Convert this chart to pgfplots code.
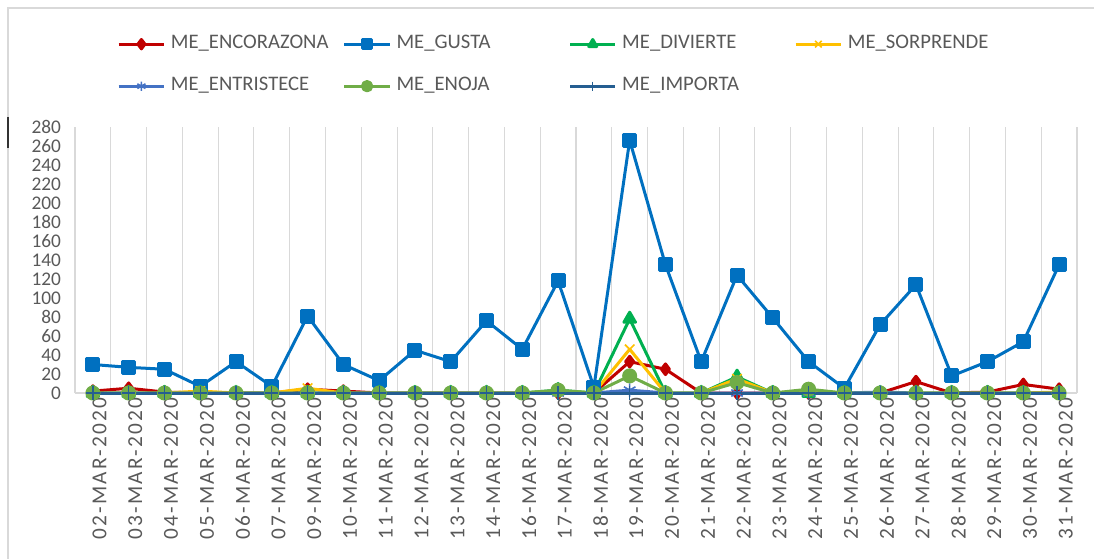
\documentclass[border=0pt]{standalone}
\usepackage{fontspec}
\setmainfont{Carlito}
\newfontfamily\tickfont[LetterSpace=10]{Carlito}
\usepackage{pgfplots}
\pgfplotsset{compat=1.18}
\definecolor{cRed}{HTML}{C00000}
\definecolor{cBlue}{HTML}{0070C0}
\definecolor{cGreen}{HTML}{00B050}
\definecolor{cYellow}{HTML}{FFC000}
\definecolor{cLBlue}{HTML}{4472C4}
\definecolor{cLGreen}{HTML}{70AD47}
\definecolor{cDBlue}{HTML}{255E91}
\definecolor{textgray}{HTML}{595959}
\definecolor{gridgray}{HTML}{D9D9D9}
\begin{document}
\begin{tikzpicture}
\begin{axis}[
  scale only axis,
  width=751.5pt, height=199.5pt,
  xmin=-0.5, xmax=27.5, ymin=0, ymax=280,
  axis lines*=left,
  axis line style={draw=gridgray, line width=0.8pt},
  xtick={0,...,27},
  xticklabels={02-MAR-2020,03-MAR-2020,04-MAR-2020,05-MAR-2020,06-MAR-2020,07-MAR-2020,09-MAR-2020,10-MAR-2020,11-MAR-2020,12-MAR-2020,13-MAR-2020,14-MAR-2020,16-MAR-2020,17-MAR-2020,18-MAR-2020,19-MAR-2020,20-MAR-2020,21-MAR-2020,22-MAR-2020,23-MAR-2020,24-MAR-2020,25-MAR-2020,26-MAR-2020,27-MAR-2020,28-MAR-2020,29-MAR-2020,30-MAR-2020,31-MAR-2020},
  minor xtick={-0.5,0.5,1.5,2.5,3.5,4.5,5.5,6.5,7.5,8.5,9.5,10.5,11.5,12.5,13.5,14.5,15.5,16.5,17.5,18.5,19.5,20.5,21.5,22.5,23.5,24.5,25.5,26.5,27.5},
  xminorgrids=true,
  minor grid style={draw=gridgray, line width=0.8pt},
  major tick length=0pt, minor tick length=0pt,
  ytick={0,20,...,280},
  /pgf/number format/assume math mode=true,
  x tick label style={rotate=90, anchor=east, yshift=-5pt, font=\tickfont\fontsize{16}{16}\selectfont, text=textgray},
  y tick label style={xshift=-7pt, font=\fontsize{14.5}{15}\selectfont, text=textgray},
  clip=false,
  every axis plot/.append style={line width=2.25pt, line join=round},
  legend columns=4,
  legend image code/.code={\draw[mark repeat=2,mark phase=2,#1,mark size=3.5pt] plot coordinates {(0pt,0pt) (17pt,0pt) (34pt,0pt)};},
  legend style={draw=none, fill=none, inner sep=0pt,
    at={(rel axis cs:0.0419,1.360)}, anchor=north west,
    font=\fontsize{15.5}{16}\selectfont, text=textgray,
    nodes={text width=125pt, align=left, inner xsep=4pt, inner ysep=2pt, text height=11pt, text depth=4pt},
    row sep=12.5pt, column sep=0pt},
]
% ME_ENCORAZONA
\addplot[color=cRed, mark=diamond*, mark size=4pt, mark options={solid, fill=cRed}] coordinates {
(0,2) (1,5) (2,1) (3,0) (4,0) (5,0) (6,4) (7,2) (8,0) (9,0) (10,0) (11,0) (12,0) (13,0) (14,0) (15,33) (16,25) (17,0) (18,0) (19,0) (20,0) (21,0) (22,0) (23,12) (24,0) (25,1) (26,9) (27,4)};
\addlegendentry{ME\_ENCORAZONA}
% ME_GUSTA
\addplot[color=cBlue, mark=square*, mark size=4.5pt, mark options={solid, fill=cBlue}] coordinates {
(0,30) (1,27) (2,25) (3,7) (4,33) (5,7) (6,81) (7,30) (8,13) (9,45) (10,33) (11,76) (12,46) (13,118) (14,6) (15,266) (16,135) (17,33) (18,124) (19,79) (20,33) (21,5) (22,72) (23,114) (24,18) (25,33) (26,54) (27,135)};
\addlegendentry{ME\_GUSTA}
% ME_DIVIERTE
\addplot[color=cGreen, mark=triangle*, mark size=5pt, mark options={solid, fill=cGreen}] coordinates {
(0,0) (1,0) (2,0) (3,0) (4,0) (5,0) (6,0) (7,0) (8,0) (9,0) (10,0) (11,0) (12,0) (13,3) (14,0) (15,78) (16,0) (17,0) (18,17) (19,0) (20,0) (21,0) (22,0) (23,0) (24,0) (25,0) (26,0) (27,0)};
\addlegendentry{ME\_DIVIERTE}
% ME_SORPRENDE
\addplot[color=cYellow, mark=x, mark size=5pt, mark options={solid, line width=1.2pt}] coordinates {
(0,0) (1,0) (2,0) (3,2) (4,0) (5,0) (6,5) (7,0) (8,0) (9,0) (10,0) (11,0) (12,0) (13,2) (14,0) (15,46) (16,0) (17,0) (18,15) (19,0) (20,2) (21,0) (22,0) (23,0) (24,0) (25,0) (26,0) (27,1)};
\addlegendentry{ME\_SORPRENDE}
% ME_ENTRISTECE
\addplot[color=cLBlue, mark=asterisk, mark size=5pt, mark options={solid, line width=1.2pt}] coordinates {
(0,0) (1,0) (2,0) (3,0) (4,0) (5,0) (6,0) (7,0) (8,0) (9,0) (10,0) (11,0) (12,0) (13,0) (14,0) (15,3) (16,0) (17,0) (18,0) (19,0) (20,0) (21,0) (22,1) (23,0) (24,0) (25,0) (26,0) (27,0)};
\addlegendentry{ME\_ENTRISTECE}
% ME_ENOJA
\addplot[color=cLGreen, mark=*, mark size=4.5pt, mark options={solid, fill=cLGreen}] coordinates {
(0,0) (1,0) (2,0) (3,0) (4,0) (5,0) (6,0) (7,0) (8,0) (9,0) (10,0) (11,0) (12,0) (13,3) (14,0) (15,18) (16,0) (17,0) (18,11) (19,0) (20,4) (21,0) (22,0) (23,0) (24,0) (25,0) (26,0) (27,0)};
\addlegendentry{ME\_ENOJA}
% ME_IMPORTA
\addplot[color=cDBlue, mark=+, mark size=5pt, mark options={solid, line width=1pt}] coordinates {
(0,0) (1,0) (2,0) (3,0) (4,0) (5,0) (6,0) (7,0) (8,0) (9,0) (10,0) (11,0) (12,0) (13,0) (14,0) (15,0) (16,0) (17,0) (18,0) (19,0) (20,0) (21,0) (22,0) (23,0) (24,0) (25,0) (26,0) (27,0)};
\addlegendentry{ME\_IMPORTA}
% frame and bounding box
\draw[gridgray, line width=0.8pt] (rel axis cs:-0.06687,-0.62406) -- (rel axis cs:-0.06687,1.44737) -- (rel axis cs:1.01697,1.44737);
\draw[black!80, line width=1.2pt] (rel axis cs:-0.06687,1.0376) -- (rel axis cs:-0.06687,0.9211);
\coordinate (bbA) at (rel axis cs:-0.07485,-0.62406);
\coordinate (bbB) at (rel axis cs:1.01697,1.47744);
\end{axis}
\pgfresetboundingbox
\path[use as bounding box] (bbA) rectangle (bbB);
\end{tikzpicture}
\end{document}
